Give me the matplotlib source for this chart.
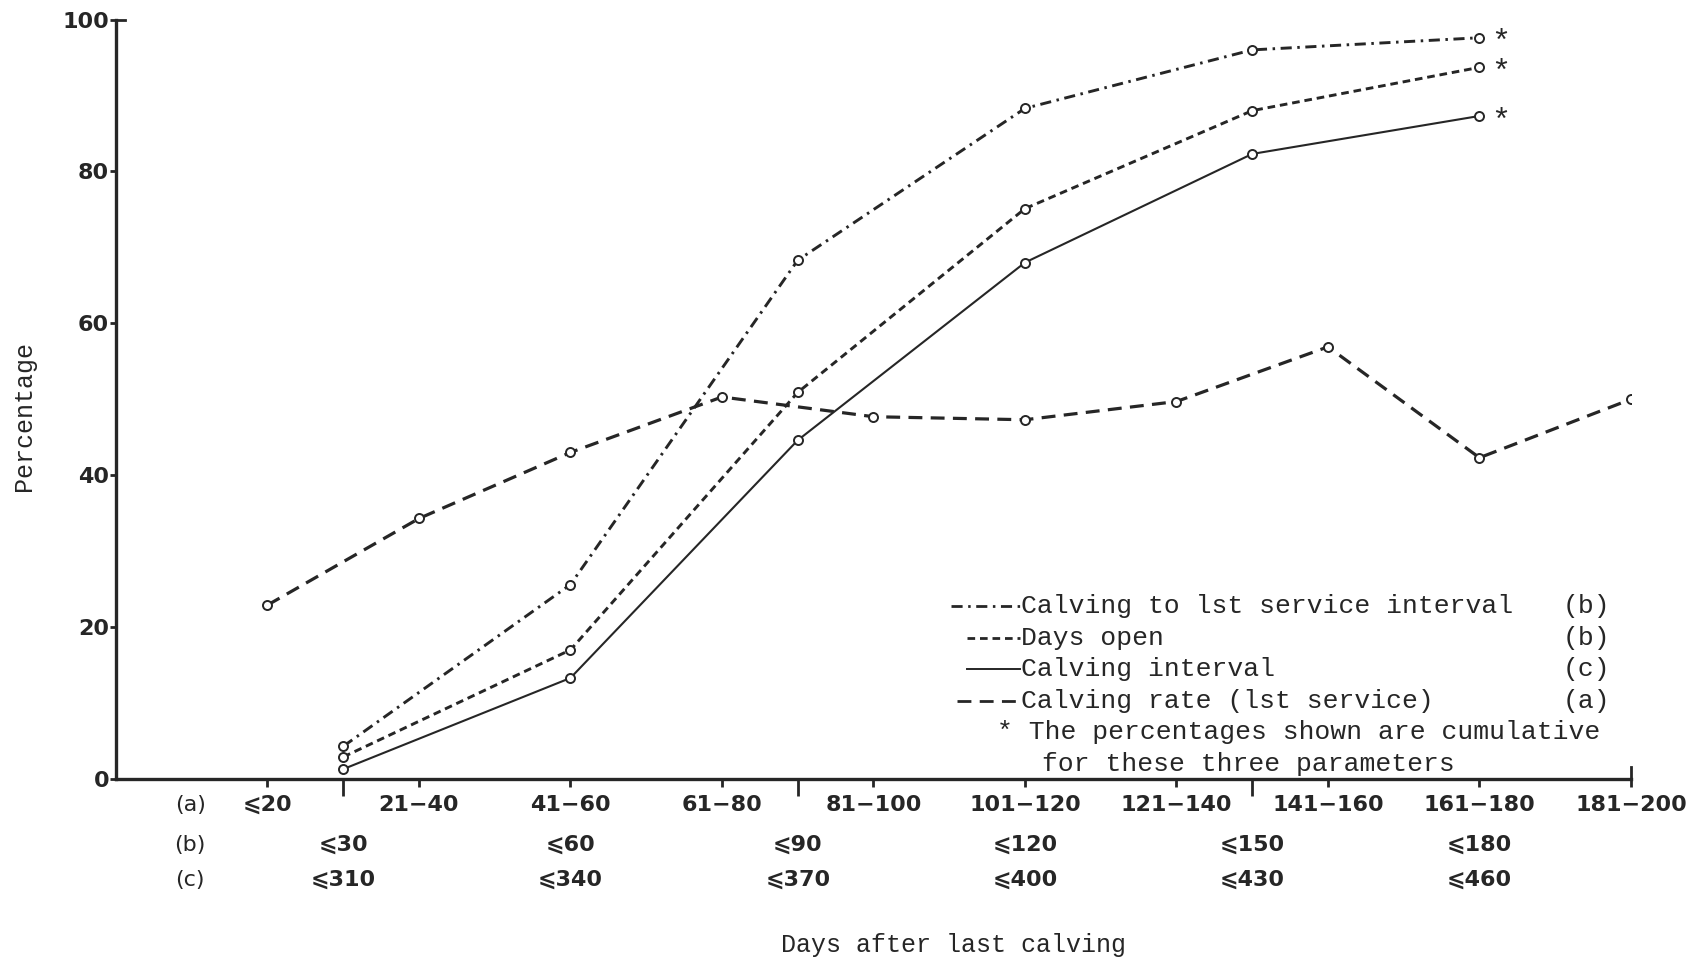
import matplotlib.pyplot as plt
from matplotlib.transforms import blended_transform_factory

plt.rcParams['lines.scale_dashes'] = False

MONO = 'Liberation Mono'
SANS = 'DejaVu Sans'
INK = '#262626'

# days after last calving (upper bound of each class)
rate_days = [20, 40, 60, 80, 100, 120, 140, 160, 180, 200]
cum_days = [30, 60, 90, 120, 150, 180]

# percentages
calving_rate = [22.9, 34.3, 43.0, 50.3, 47.7, 47.3, 49.7, 56.9, 42.3, 50.0]
first_service = [4.3, 25.6, 68.3, 88.3, 96.0, 97.6]
days_open = [2.9, 17.0, 50.9, 75.1, 88.0, 93.7]
calving_interval = [1.3, 13.3, 44.6, 68.0, 82.3, 87.3]

labels_a = ['⩽20', '21−40', '41−60', '61−80', '81−100',
            '101−120', '121−140', '141−160', '161−180', '181−200']
labels_b = ['⩽30', '⩽60', '⩽90', '⩽120', '⩽150', '⩽180']
labels_c = ['⩽310', '⩽340', '⩽370', '⩽400', '⩽430', '⩽460']

y_ticks = [0, 20, 40, 60, 80, 100]

# line styles
DASH_DOT = (0, (8, 4, 1.8, 4))
SHORT_DASH = (0, (5.5, 3.5))
LONG_DASH = (0, (10, 6))

fig = plt.figure(figsize=(17.03, 9.61), dpi=100)
ax = fig.add_axes([0.0681, 0.1894, 0.8896, 0.7903])

mk = dict(marker='o', markersize=6.5, markerfacecolor='white',
          markeredgecolor=INK, markeredgewidth=1.4)

ax.plot(rate_days, calving_rate, color=INK, lw=2.3, linestyle=LONG_DASH, **mk)
ax.plot(cum_days, first_service, color=INK, lw=2.1, linestyle=DASH_DOT, **mk)
ax.plot(cum_days, days_open, color=INK, lw=2.1, linestyle=SHORT_DASH, **mk)
ax.plot(cum_days, calving_interval, color=INK, lw=1.5, **mk)

# cumulative series marked with an asterisk
for s in (first_service, days_open, calving_interval):
    ax.annotate('*', (cum_days[-1], s[-1]), xytext=(15, -4),
                textcoords='offset points', ha='center', va='center',
                fontsize=23, family=MONO, color=INK)

ax.set_xlim(0, 200)
ax.set_ylim(0, 100)
for side in ('top', 'right'):
    ax.spines[side].set_visible(False)
for side in ('left', 'bottom'):
    ax.spines[side].set_linewidth(2.4)
    ax.spines[side].set_color(INK)

# small hooks at the ends of both axes
ax.plot([0, 1.2], [100, 100], color=INK, lw=2, clip_on=False)
ax.plot([200, 200], [0, 1.6], color=INK, lw=2, clip_on=False)

ax.set_yticks(y_ticks)
ax.set_yticklabels([str(v) for v in y_ticks], fontsize=16,
                   fontweight='bold', family=SANS, color=INK)
ax.tick_params(axis='y', length=4, width=2, color=INK, pad=1)

ax.set_xticks(rate_days)
ax.set_xticklabels([])
ax.set_xticks([30, 90, 150], minor=True)
ax.tick_params(axis='x', which='major', length=6, width=2, color=INK)
ax.tick_params(axis='x', which='minor', length=12, width=2, color=INK)

# three rows of class labels under the axis
tr = blended_transform_factory(ax.transData, ax.transAxes)
rows = [('(a)', rate_days, labels_a, -0.034),
        ('(b)', cum_days, labels_b, -0.087),
        ('(c)', cum_days, labels_c, -0.133)]
for tag, xs, labs, yy in rows:
    ax.text(9.8, yy, tag, transform=tr, ha='center', va='center',
            fontsize=16, family=SANS, color=INK)
    for x, lab in zip(xs, labs):
        ax.text(x, yy, lab, transform=tr, ha='center', va='center',
                fontsize=16, fontweight='bold', family=SANS, color=INK)

ax.text(-0.0607, 0.478, 'Percentage', transform=ax.transAxes, rotation=90,
        ha='center', va='center', fontsize=18, family=MONO, color=INK)
ax.text(0.553, -0.2186, 'Days after last calving', transform=ax.transAxes,
        ha='center', va='center', fontsize=18, family=MONO, color=INK)

# key
key = [('Calving to lst service interval', '(b)', DASH_DOT, 2.0, 0.551, 0.228),
       ('Days open', '(b)', SHORT_DASH, 2.0, 0.562, 0.186),
       ('Calving interval', '(c)', '-', 1.4, 0.562, 0.145),
       ('Calving rate (lst service)', '(a)', LONG_DASH, 2.0, 0.555, 0.103)]
for text, tag, ls, lw, x0, yy in key:
    ax.plot([x0, 0.5967], [yy, yy], transform=ax.transAxes, color=INK,
            lw=lw, linestyle=ls, clip_on=False)
    ax.text(0.5975, yy, text, transform=ax.transAxes, ha='left', va='center',
            fontsize=19, family=MONO, color=INK)
    ax.text(0.955, yy, tag, transform=ax.transAxes, ha='left', va='center',
            fontsize=19, family=MONO, color=INK)

ax.text(0.5815, 0.062, '* The percentages shown are cumulative',
        transform=ax.transAxes, ha='left', va='center', fontsize=19,
        family=MONO, color=INK)
ax.text(0.611, 0.020, 'for these three parameters', transform=ax.transAxes,
        ha='left', va='center', fontsize=19, family=MONO, color=INK)

fig.savefig('out.png', dpi=100)
